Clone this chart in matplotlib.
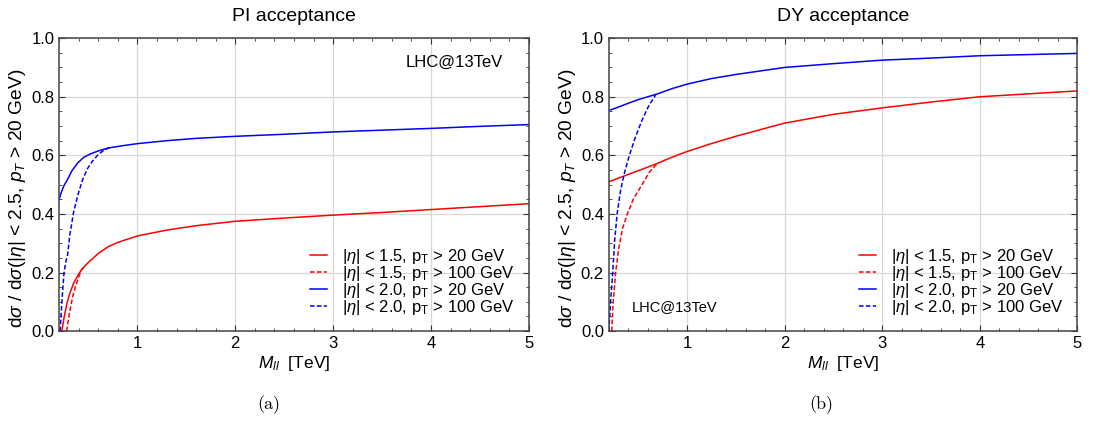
import numpy as np
import matplotlib
matplotlib.use("Agg")
import matplotlib.pyplot as plt
from matplotlib.ticker import MultipleLocator, FormatStrFormatter

plt.rcParams['font.family'] = ['Liberation Sans', 'DejaVu Sans']
plt.rcParams['mathtext.fontset'] = 'custom'
plt.rcParams['mathtext.rm'] = 'Liberation Sans'
plt.rcParams['mathtext.it'] = 'Liberation Sans:italic'

# ---- PI acceptance ----
pi_eta15_pt20_x = [0.227, 0.25, 0.28, 0.31, 0.35, 0.40, 0.43, 0.50, 0.60, 0.70, 0.80, 1.0, 1.3, 1.6, 2.0, 2.5, 3.0, 3.5, 4.0, 4.5, 5.0]
pi_eta15_pt20_y = [0.0, 0.045, 0.095, 0.13, 0.165, 0.195, 0.21, 0.235, 0.265, 0.288, 0.303, 0.325, 0.345, 0.36, 0.375, 0.386, 0.396, 0.405, 0.415, 0.425, 0.435]
pi_eta15_pt100_x = [0.276, 0.29, 0.31, 0.34, 0.37, 0.40, 0.43, 0.47]
pi_eta15_pt100_y = [0.0, 0.03, 0.07, 0.12, 0.155, 0.185, 0.21, 0.226]
pi_eta20_pt20_x = [0.2, 0.22, 0.25, 0.285, 0.33, 0.39, 0.45, 0.52, 0.60, 0.70, 0.85, 1.0, 1.3, 1.6, 2.0, 2.5, 3.0, 3.5, 4.0, 4.5, 5.0]
pi_eta20_pt20_y = [0.45, 0.472, 0.497, 0.517, 0.547, 0.574, 0.593, 0.605, 0.615, 0.625, 0.633, 0.64, 0.65, 0.658, 0.665, 0.672, 0.68, 0.686, 0.692, 0.699, 0.705]
pi_eta20_pt100_x = [0.21, 0.23, 0.25, 0.27, 0.285, 0.31, 0.35, 0.40, 0.44, 0.49, 0.54, 0.60, 0.66, 0.72]
pi_eta20_pt100_y = [0.0, 0.11, 0.20, 0.24, 0.256, 0.33, 0.41, 0.475, 0.517, 0.555, 0.58, 0.603, 0.618, 0.627]

# ---- DY acceptance ----
dy_eta15_pt20_x = [0.2, 0.4, 0.6, 0.7, 0.85, 1.0, 1.25, 1.5, 2.0, 2.5, 3.0, 3.5, 4.0, 4.5, 5.0]
dy_eta15_pt20_y = [0.51, 0.535, 0.56, 0.573, 0.594, 0.613, 0.64, 0.665, 0.71, 0.74, 0.762, 0.782, 0.80, 0.81, 0.82]
dy_eta15_pt100_x = [0.23, 0.245, 0.27, 0.30, 0.34, 0.39, 0.45, 0.54, 0.62, 0.70]
dy_eta15_pt100_y = [0.0, 0.1, 0.2, 0.28, 0.35, 0.40, 0.45, 0.50, 0.545, 0.573]
dy_eta20_pt20_x = [0.2, 0.3, 0.4, 0.5, 0.6, 0.7, 0.85, 1.0, 1.25, 1.5, 2.0, 2.5, 3.0, 3.5, 4.0, 4.5, 5.0]
dy_eta20_pt20_y = [0.753, 0.765, 0.778, 0.79, 0.80, 0.81, 0.828, 0.843, 0.862, 0.876, 0.90, 0.913, 0.925, 0.932, 0.94, 0.944, 0.948]
dy_eta20_pt100_x = [0.20, 0.22, 0.24, 0.26, 0.285, 0.32, 0.36, 0.41, 0.47, 0.54, 0.61, 0.68]
dy_eta20_pt100_y = [0.0, 0.11, 0.2, 0.31, 0.40, 0.48, 0.54, 0.60, 0.66, 0.72, 0.77, 0.806]

labels = [r'|$\eta$| < 1.5, p$_\mathrm{T}$ > 20 GeV',
          r'|$\eta$| < 1.5, p$_\mathrm{T}$ > 100 GeV',
          r'|$\eta$| < 2.0, p$_\mathrm{T}$ > 20 GeV',
          r'|$\eta$| < 2.0, p$_\mathrm{T}$ > 100 GeV']

fig = plt.figure(figsize=(10.95, 4.24), dpi=100)
ax1 = fig.add_axes([0.054, 0.219, 0.429, 0.691])
ax2 = fig.add_axes([0.556, 0.219, 0.428, 0.691])

DASH = (0, (3, 1.5))


def style(ax, title):
    ax.set_xlim(0.2, 5)
    ax.set_ylim(0, 1)
    ax.xaxis.set_major_locator(MultipleLocator(1))
    ax.xaxis.set_minor_locator(MultipleLocator(0.2))
    ax.yaxis.set_major_locator(MultipleLocator(0.2))
    ax.yaxis.set_minor_locator(MultipleLocator(0.05))
    ax.yaxis.set_major_formatter(FormatStrFormatter('%.1f'))
    ax.tick_params(which='both', direction='in', top=True, right=True, labelsize=12, color='#333333')
    ax.tick_params(which='major', length=4)
    ax.tick_params(which='minor', length=2.5)
    ax.grid(True, which='major', color='#d8d8d8', lw=0.9)
    ax.set_axisbelow(True)
    for s in ax.spines.values():
        s.set_color('#444444')
        s.set_linewidth(1.1)
    ax.set_title(title, fontsize=14, pad=12)
    ax.set_xlabel(r'$M_{ll}$  [TeV]', fontsize=12.5, labelpad=2)
    ax.set_ylabel(r'd$\sigma$ / d$\sigma$(|$\eta$| < 2.5, $p_T$ > 20 GeV)', fontsize=13.8)
    ax.yaxis.set_label_coords(-0.066, 0.454)


def curves(ax, series):
    for (x, y), col, ls, lab in zip(series, ['red', 'red', 'blue', 'blue'],
                                    ['-', DASH, '-', DASH], labels):
        ax.plot(x, y, color=col, lw=1.1, ls=ls, label=lab)
    ax.legend(loc='lower right', bbox_to_anchor=(1.0, 0.0), frameon=False, fontsize=12,
              handlelength=1.0, handletextpad=0.9, labelspacing=-0.12, borderaxespad=0.45)


curves(ax1, [(pi_eta15_pt20_x, pi_eta15_pt20_y), (pi_eta15_pt100_x, pi_eta15_pt100_y),
             (pi_eta20_pt20_x, pi_eta20_pt20_y), (pi_eta20_pt100_x, pi_eta20_pt100_y)])
style(ax1, 'PI acceptance')
ax1.text(0.945, 0.918, 'LHC@13TeV', transform=ax1.transAxes, ha='right', va='center', fontsize=12)

curves(ax2, [(dy_eta15_pt20_x, dy_eta15_pt20_y), (dy_eta15_pt100_x, dy_eta15_pt100_y),
             (dy_eta20_pt20_x, dy_eta20_pt20_y), (dy_eta20_pt100_x, dy_eta20_pt100_y)])
style(ax2, 'DY acceptance')
ax2.text(0.049, 0.082, 'LHC@13TeV', transform=ax2.transAxes, ha='left', va='center', fontsize=10.5)

fig.text(0.245, 0.045, '(a)', ha='center', va='center', fontsize=13, family='cmr10')
fig.text(0.750, 0.045, '(b)', ha='center', va='center', fontsize=13, family='cmr10')

fig.savefig('out.png', dpi=100)
